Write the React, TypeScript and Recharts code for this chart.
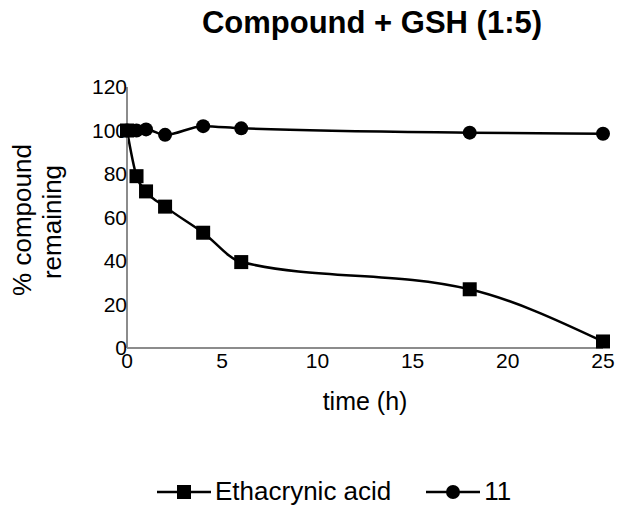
import { LineChart, Line, XAxis, YAxis, Legend } from 'recharts';

const hours = [0, 0.5, 1, 2, 4, 6, 18, 25];
const ethacrynicAcid = [100, 79, 72, 65, 53, 39.5, 27, 3];
const compound11 = [100, 100, 100.5, 98, 102, 101, 99, 98.5];
const xTicks = [0, 5, 10, 15, 20, 25];
const yTicks = [0, 20, 40, 60, 80, 100, 120];

const data = hours.map((t, i) => ({ t, eth: ethacrynicAcid[i], c11: compound11[i] }));

const FONT = '"Liberation Sans", Arial, sans-serif';
const AXIS_GRAY = '#8c8c8c';

const renderSquare = (props: any) => {
  const { cx, cy, index } = props;
  if (cx == null || cy == null) return <g key={`sq-${index}`} />;
  return <rect key={`sq-${index}`} x={cx - 7} y={cy - 7} width={14} height={14} fill="#000" />;
};

const renderCircle = (props: any) => {
  const { cx, cy, index } = props;
  if (cx == null || cy == null) return <g key={`ci-${index}`} />;
  return <circle key={`ci-${index}`} cx={cx} cy={cy} r={7} fill="#000" />;
};

const LegendContent = () => (
  <div style={{ display: 'flex', alignItems: 'center', fontFamily: FONT, fontSize: 26, color: '#000' }}>
    <svg width={54} height={20}>
      <line x1={0} y1={10} x2={54} y2={10} stroke="#000" strokeWidth={2.5} />
      <rect x={20} y={3} width={14} height={14} fill="#000" />
    </svg>
    <span style={{ marginLeft: 4 }}>Ethacrynic acid</span>
    <svg width={54} height={20} style={{ marginLeft: 35 }}>
      <line x1={0} y1={10} x2={54} y2={10} stroke="#000" strokeWidth={2.5} />
      <circle cx={27} cy={10} r={7} fill="#000" />
    </svg>
    <span style={{ marginLeft: 4 }}>11</span>
  </div>
);

export default function App() {
  return (
    <div style={{ position: 'absolute', top: 0, left: 0, width: 634, height: 511, background: '#fff' }}>
      <div
        style={{
          position: 'absolute',
          top: 5,
          left: 0,
          width: 634,
          paddingLeft: 110,
          boxSizing: 'border-box',
          textAlign: 'center',
          fontFamily: FONT,
          fontWeight: 'bold',
          fontSize: 31,
          color: '#000',
        }}
      >
        Compound + GSH (1:5)
      </div>
      <LineChart width={634} height={511} data={data} margin={{ top: 87, right: 31, left: 0, bottom: 133 }}>
        <XAxis
          dataKey="t"
          type="number"
          domain={[0, 25]}
          ticks={xTicks}
          tickLine={false}
          tickSize={0}
          tickMargin={5}
          height={30}
          axisLine={{ stroke: AXIS_GRAY, strokeWidth: 2 }}
          tick={{ fontFamily: FONT, fontSize: 21, fill: '#000' }}
          label={{
            content: ({ viewBox }: any) => (
              <text
                x={viewBox.x + viewBox.width / 2}
                y={viewBox.y + 62}
                textAnchor="middle"
                fontFamily={FONT}
                fontSize={25}
                fill="#000"
              >
                time (h)
              </text>
            ),
          }}
        />
        <YAxis
          type="number"
          domain={[0, 120]}
          ticks={yTicks}
          width={127}
          tickLine={false}
          tickSize={0}
          tickMargin={0}
          axisLine={{ stroke: AXIS_GRAY, strokeWidth: 2 }}
          tick={{ fontFamily: FONT, fontSize: 21, fill: '#000' }}
          label={{
            content: () => (
              <g fontFamily={FONT} fontSize={26} fill="#000">
                <text x={31} y={220} transform="rotate(-90, 31, 220)" textAnchor="middle">
                  % compound
                </text>
                <text x={61} y={222} transform="rotate(-90, 61, 222)" textAnchor="middle">
                  remaining
                </text>
              </g>
            ),
          }}
        />
        <Legend
          layout="horizontal"
          verticalAlign="middle"
          align="center"
          wrapperStyle={{ top: 476, left: 157, width: 420 }}
          content={LegendContent}
        />
        <Line
          type="monotone"
          dataKey="eth"
          name="Ethacrynic acid"
          stroke="#000"
          strokeWidth={2.5}
          dot={renderSquare}
          activeDot={false}
          isAnimationActive={false}
        />
        <Line
          type="monotone"
          dataKey="c11"
          name="11"
          stroke="#000"
          strokeWidth={2.5}
          dot={renderCircle}
          activeDot={false}
          isAnimationActive={false}
        />
      </LineChart>
    </div>
  );
}
